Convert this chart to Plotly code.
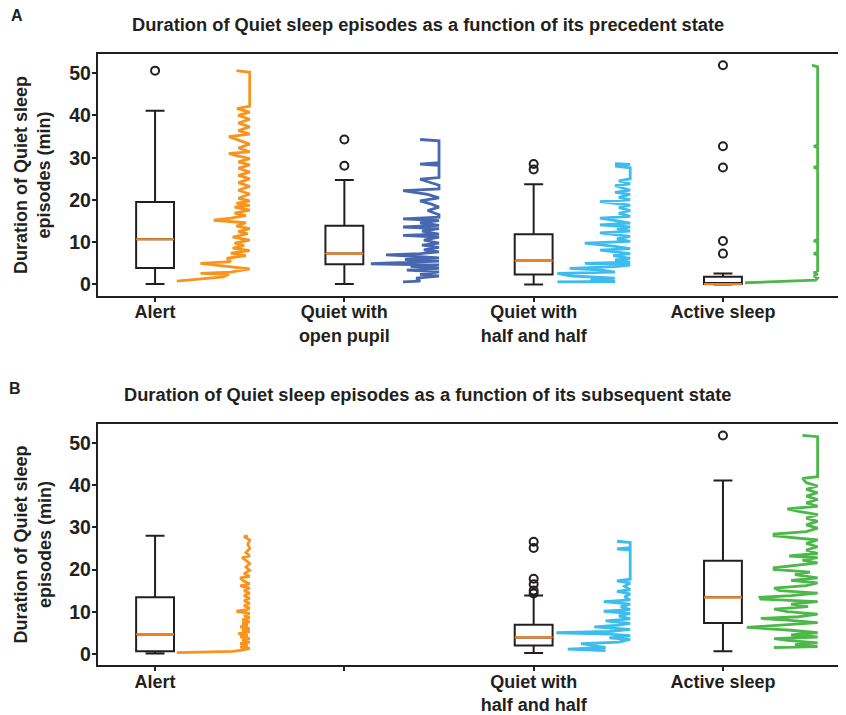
import plotly.graph_objects as go

# ---------------- data ----------------
categories_a = ["Alert", "Quiet with<br>open pupil", "Quiet with<br>half and half", "Active sleep"]
categories_b = ["Alert", "", "Quiet with<br>half and half", "Active sleep"]
tick_positions = [1, 2, 3, 4]
y_ticks = [0, 10, 20, 30, 40, 50]

# Panel A box statistics (precedent state)
a_pos = [1, 2, 3, 4]
a_low = [0.1, 0.1, 0.0, 0.0]
a_q1 = [3.9, 4.8, 2.35, 0.1]
a_med = [10.7, 7.3, 5.65, 0.1]
a_q3 = [19.5, 13.9, 11.9, 1.8]
a_high = [41.1, 24.7, 23.7, 2.6]
a_out_x = [1, 2, 2, 3, 3, 4, 4, 4, 4, 4]
a_out_y = [50.6, 34.3, 28.1, 28.5, 27.2, 51.9, 32.7, 27.7, 10.3, 7.3]

# Panel B box statistics (subsequent state)
b_pos = [1, 3, 4]
b_low = [0.1, 0.2, 0.6]
b_q1 = [0.6, 2.0, 7.3]
b_med = [4.6, 3.9, 13.4]
b_q3 = [13.4, 6.9, 22.1]
b_high = [28.0, 13.85, 41.1]
b_out_x = [3, 3, 3, 3, 3, 3, 4]
b_out_y = [26.6, 25.1, 17.8, 16.5, 15.0, 14.3, 51.8]

# Distribution traces (episode duration vs. horizontal position)
a_alert_y = [0.8, 1.8, 2.4, 2.6, 2.9, 3.7, 4.2, 5.0, 5.4, 6.2, 6.8, 7.4, 8.0, 8.6, 9.2, 9.8, 10.5, 11.2, 12.0, 12.5,
             13.2, 13.8, 14.6, 15.2, 15.7, 16.3, 16.9, 17.6, 18.3, 18.7, 19.2, 19.8, 20.4, 21.4, 22.3, 23.2, 24.1,
             25.0, 25.8, 26.6, 27.5, 28.3, 29.0, 29.8, 30.6, 31.0, 31.4, 32.3, 33.2, 34.2, 35.0, 35.6, 36.4, 37.3,
             38.2, 39.1, 40.0, 40.8, 41.6, 42.2, 50.2, 50.6]
a_alert_x = [1.115, 1.36, 1.39, 1.24, 1.40, 1.50, 1.39, 1.24, 1.40, 1.38, 1.48, 1.40, 1.50, 1.41, 1.47, 1.42, 1.50,
             1.41, 1.49, 1.44, 1.50, 1.43, 1.48, 1.31, 1.40, 1.48, 1.42, 1.50, 1.42, 1.50, 1.43, 1.50, 1.44, 1.50,
             1.44, 1.50, 1.44, 1.50, 1.44, 1.50, 1.44, 1.50, 1.44, 1.50, 1.42, 1.39, 1.50, 1.44, 1.50, 1.44, 1.39,
             1.50, 1.44, 1.50, 1.44, 1.50, 1.44, 1.50, 1.433, 1.50, 1.50, 1.43]

a_open_y = [0.6, 0.8, 1.5, 2.0, 2.4, 3.0, 3.4, 3.8, 4.3, 4.6, 4.9, 5.2, 5.5, 5.9, 6.3, 6.6, 7.0, 7.3, 7.7, 8.2,
            8.8, 9.3, 9.8, 10.5, 11.2, 11.6, 11.9, 12.6, 13.2, 13.6, 14.0, 14.6, 15.1, 15.5, 15.9, 16.5, 17.5, 18.3,
            19.0, 19.8, 20.5, 21.3, 22.2, 22.6, 23.5, 24.9, 25.3, 28.2, 28.5, 28.8, 34.0, 34.3]
a_open_x = [2.31, 2.40, 2.38, 2.50, 2.40, 2.50, 2.33, 2.50, 2.35, 2.50, 2.14, 2.36, 2.50, 2.32, 2.50, 2.40, 2.22,
            2.40, 2.50, 2.42, 2.50, 2.41, 2.50, 2.42, 2.50, 2.31, 2.50, 2.41, 2.50, 2.31, 2.50, 2.40, 2.50, 2.31,
            2.50, 2.50, 2.44, 2.50, 2.46, 2.40, 2.50, 2.44, 2.31, 2.50, 2.50, 2.40, 2.50, 2.50, 2.40, 2.50, 2.50, 2.40]

a_half_y = [0.6, 0.7, 1.2, 1.5, 2.0, 2.6, 2.9, 3.4, 3.8, 4.2, 4.6, 5.0, 5.3, 5.8, 6.2, 6.8, 7.3, 8.1, 8.5, 9.0,
            9.8, 10.2, 10.8, 11.4, 12.2, 12.6, 13.2, 13.6, 14.1, 14.5, 15.0, 15.7, 16.1, 16.8, 17.5, 18.2, 18.8,
            19.6, 20.0, 20.6, 21.3, 21.8, 22.3, 23.4, 23.8, 24.5, 25.0, 27.6, 28.0, 28.4, 28.6]
a_half_x = [3.125, 3.43, 3.30, 3.43, 3.20, 3.125, 3.43, 3.36, 3.19, 3.43, 3.51, 3.27, 3.51, 3.43, 3.51, 3.42,
            3.51, 3.35, 3.51, 3.43, 3.27, 3.51, 3.44, 3.51, 3.35, 3.51, 3.44, 3.51, 3.35, 3.51, 3.45, 3.35, 3.51,
            3.45, 3.51, 3.45, 3.51, 3.35, 3.51, 3.45, 3.51, 3.43, 3.51, 3.43, 3.51, 3.45, 3.51, 3.51, 3.43, 3.51, 3.43]

a_active_y = [0.4, 1.0, 1.5, 2.0, 2.4, 2.8, 3.2, 7.0, 7.3, 7.6, 10.0, 10.3, 10.6, 27.4, 27.7, 28.0, 32.4, 32.7,
              33.0, 51.5, 51.9]
a_active_x = [4.117, 4.49, 4.50, 4.48, 4.50, 4.48, 4.50, 4.50, 4.48, 4.50, 4.50, 4.48, 4.50, 4.50, 4.48, 4.50,
              4.50, 4.48, 4.50, 4.50, 4.47]

b_alert_y = [0.3, 0.6, 0.9, 1.3, 1.6, 2.0, 2.4, 2.8, 3.2, 3.6, 4.0, 4.4, 4.8, 5.2, 5.6, 6.0, 6.4, 6.8, 7.2, 7.6,
             8.0, 8.6, 9.0, 9.6, 10.1, 10.4, 10.8, 11.4, 12.0, 12.6, 13.2, 13.8, 14.4, 15.0, 15.6, 16.1, 16.6, 17.2,
             18.0, 18.4, 19.0, 19.8, 20.6, 21.4, 22.2, 22.8, 23.2, 24.0, 25.0, 26.0, 27.0, 27.8, 28.0]
b_alert_x = [1.115, 1.41, 1.46, 1.50, 1.45, 1.49, 1.45, 1.50, 1.46, 1.50, 1.45, 1.49, 1.44, 1.50, 1.46, 1.50,
             1.45, 1.49, 1.46, 1.50, 1.46, 1.50, 1.47, 1.50, 1.43, 1.48, 1.50, 1.47, 1.50, 1.47, 1.50, 1.47, 1.50,
             1.47, 1.50, 1.45, 1.50, 1.47, 1.45, 1.50, 1.47, 1.50, 1.48, 1.50, 1.48, 1.46, 1.50, 1.48, 1.50, 1.49,
             1.50, 1.47, 1.49]

b_half_y = [0.8, 1.1, 1.5, 2.0, 2.4, 2.8, 3.4, 3.8, 4.3, 4.7, 5.0, 5.3, 5.8, 6.4, 6.8, 7.2, 7.8, 8.3, 9.0, 9.6,
            10.1, 10.5, 11.2, 11.8, 12.4, 12.8, 13.5, 14.2, 14.8, 15.2, 16.0, 16.8, 17.3, 17.7, 24.6, 24.9, 25.2,
            26.4, 26.7]
b_half_x = [3.38, 3.18, 3.38, 3.30, 3.25, 3.45, 3.51, 3.40, 3.51, 3.40, 3.12, 3.40, 3.51, 3.32, 3.45, 3.51, 3.38,
            3.51, 3.45, 3.51, 3.37, 3.51, 3.46, 3.51, 3.37, 3.51, 3.48, 3.51, 3.44, 3.51, 3.48, 3.51, 3.44, 3.51,
            3.51, 3.44, 3.51, 3.51, 3.44]

b_active_y = [1.5, 1.7, 2.2, 2.6, 3.2, 3.6, 4.0, 4.5, 5.0, 5.6, 6.3, 6.8, 7.4, 8.0, 8.4, 8.8, 9.4, 10.0, 10.6,
              11.2, 11.8, 12.4, 13.0, 13.4, 13.8, 14.4, 15.0, 15.6, 16.2, 16.8, 17.4, 18.0, 18.8, 19.4, 20.0, 20.4,
              21.0, 21.6, 22.2, 22.8, 23.2, 23.8, 24.6, 25.4, 26.2, 27.0, 28.0, 28.4, 29.0, 29.8, 30.6, 31.4, 32.2,
              33.0, 33.8, 34.4, 35.0, 35.8, 36.6, 37.4, 38.2, 39.0, 39.8, 40.6, 41.6, 42.0, 51.5, 51.8]
b_active_x = [4.27, 4.50, 4.38, 4.50, 4.34, 4.27, 4.50, 4.36, 4.50, 4.36, 4.126, 4.30, 4.50, 4.34, 4.20, 4.40,
              4.50, 4.34, 4.27, 4.45, 4.36, 4.50, 4.20, 4.196, 4.36, 4.50, 4.30, 4.27, 4.44, 4.50, 4.36, 4.50,
              4.38, 4.46, 4.27, 4.27, 4.40, 4.50, 4.42, 4.50, 4.35, 4.50, 4.44, 4.50, 4.44, 4.50, 4.27, 4.27, 4.44,
              4.50, 4.44, 4.50, 4.44, 4.50, 4.40, 4.34, 4.50, 4.44, 4.50, 4.44, 4.50, 4.44, 4.50, 4.44, 4.42, 4.50,
              4.50, 4.42]

# ---------------- styles ----------------
TXT = "#231F20"
BOX_LINE = "#231F20"
MEDIAN = "#F58220"
ORANGE = "#F7941D"
DARKBLUE = "#4767B1"
LIGHTBLUE = "#3DBDED"
GREEN = "#4CB849"
FONT = "Liberation Sans, Arial, Helvetica, sans-serif"

# page offset caused by the default 8px body margin of the html page
OFF = 8
W, H = 846 - OFF, 715 - OFF


def px_x(px):
    return (px - OFF) / W


def px_y(py):
    return 1 - (py - OFF) / H


fig = go.Figure()


def add_panel(xa, ya, pos, low, q1, med, q3, high, out_x, out_y, lines):
    fig.add_trace(go.Box(
        x=pos, q1=q1, median=med, q3=q3, lowerfence=low, upperfence=high,
        width=0.2, whiskerwidth=0.5, boxpoints=False,
        line=dict(color=BOX_LINE, width=2), fillcolor="rgba(255,255,255,0)",
        xaxis=xa, yaxis=ya, hoverinfo="skip"))
    mx, my = [], []
    for p, m in zip(pos, med):
        mx += [p - 0.1, p + 0.1, None]
        my += [m, m, None]
    fig.add_trace(go.Scatter(x=mx, y=my, mode="lines", line=dict(color=MEDIAN, width=2.2),
                             xaxis=xa, yaxis=ya, hoverinfo="skip"))
    fig.add_trace(go.Scatter(x=out_x, y=out_y, mode="markers",
                             marker=dict(symbol="circle-open", size=8, color=BOX_LINE, line=dict(width=2)),
                             xaxis=xa, yaxis=ya, hoverinfo="skip"))
    for lx, ly, col in lines:
        fig.add_trace(go.Scatter(x=lx, y=ly, mode="lines", line=dict(color=col, width=2.8),
                                 xaxis=xa, yaxis=ya, hoverinfo="skip"))


add_panel("x", "y", a_pos, a_low, a_q1, a_med, a_q3, a_high, a_out_x, a_out_y,
          [(a_alert_x, a_alert_y, ORANGE), (a_open_x, a_open_y, DARKBLUE),
           (a_half_x, a_half_y, LIGHTBLUE), (a_active_x, a_active_y, GREEN)])
add_panel("x2", "y2", b_pos, b_low, b_q1, b_med, b_q3, b_high, b_out_x, b_out_y,
          [(b_alert_x, b_alert_y, ORANGE), (b_half_x, b_half_y, LIGHTBLUE), (b_active_x, b_active_y, GREEN)])

xtickfont = dict(family=FONT, size=18, color=TXT, weight="bold")
ytickfont = dict(family=FONT, size=19.5, color=TXT, weight="bold")
x_dom = [px_x(97.7), 1.0]
ya_dom = [px_y(297.7), px_y(54.5)]
yb_dom = [px_y(669.7), px_y(427.0)]

common_x = dict(range=[0.697, 4.65], tickvals=tick_positions, showline=True, linecolor=TXT, linewidth=1.8,
                mirror=True, ticks="outside", ticklen=4, tickwidth=1.8, tickcolor=TXT, tickfont=xtickfont,
                ticklabelstandoff=-5, showgrid=False, zeroline=False, domain=x_dom)
common_y = dict(range=[-2.65, 54.5], tickvals=y_ticks, showline=True, linecolor=TXT, linewidth=1.8,
                ticks="outside", ticklen=4, tickwidth=1.8, tickcolor=TXT, tickfont=ytickfont,
                ticklabelstandoff=-3, showgrid=False, zeroline=False)

fig.update_layout(
    width=W, height=H, margin=dict(l=0, r=0, t=0, b=0),
    paper_bgcolor="white", plot_bgcolor="white", showlegend=False,
    xaxis=dict(common_x, ticktext=categories_a, anchor="y"),
    yaxis=dict(common_y, domain=ya_dom, anchor="x"),
    xaxis2=dict(common_x, ticktext=categories_b, anchor="y2"),
    yaxis2=dict(common_y, domain=yb_dom, anchor="x2"),
)

ytitle = "<b>Duration of Quiet sleep<br>episodes (min)</b>"
annots = [
    dict(text="<b>A</b>", x=px_x(17), y=px_y(15.5), font=dict(size=16)),
    dict(text="<b>B</b>", x=px_x(14.5), y=px_y(391.5), font=dict(size=16)),
    dict(text="<b>Duration of Quiet sleep episodes as a function of its precedent state</b>",
         x=px_x(427.5), y=px_y(24.5), font=dict(size=18.3)),
    dict(text="<b>Duration of Quiet sleep episodes as a function of its subsequent state</b>",
         x=px_x(427.5), y=px_y(397), font=dict(size=18.3)),
    dict(text=ytitle, x=px_x(33), y=(ya_dom[0] + ya_dom[1]) / 2, textangle=-90, font=dict(size=18)),
    dict(text=ytitle, x=px_x(33), y=(yb_dom[0] + yb_dom[1]) / 2, textangle=-90, font=dict(size=18)),
]
for a in annots:
    f = dict(family=FONT, color=TXT)
    f.update(a.pop("font"))
    fig.add_annotation(xref="paper", yref="paper", showarrow=False, xanchor="center", yanchor="middle",
                       font=f, **a)

fig.write_html("out.html")
